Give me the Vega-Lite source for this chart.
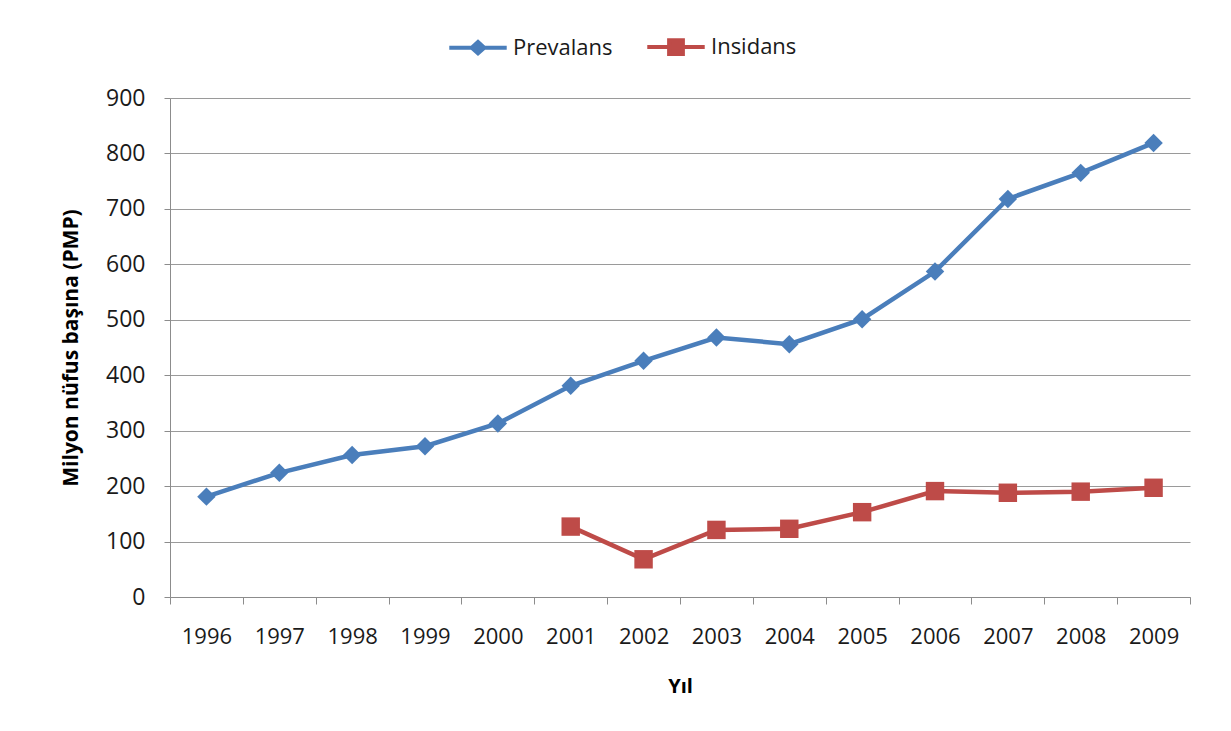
{
  "$schema": "https://vega.github.io/schema/vega-lite/v6.json",
  "autosize": {"type": "none"},
  "width": 1020,
  "height": 499,
  "padding": {"left": 170, "top": 98, "right": 41, "bottom": 134},
  "background": "white",
  "config": {
    "view": {"stroke": null},
    "font": "Open Sans"
  },
  "data": {
    "values": [
      {"year": "1996", "series": "Prevalans", "value": 181},
      {"year": "1997", "series": "Prevalans", "value": 224},
      {"year": "1998", "series": "Prevalans", "value": 256},
      {"year": "1999", "series": "Prevalans", "value": 272},
      {"year": "2000", "series": "Prevalans", "value": 313},
      {"year": "2001", "series": "Prevalans", "value": 381},
      {"year": "2002", "series": "Prevalans", "value": 426},
      {"year": "2003", "series": "Prevalans", "value": 468},
      {"year": "2004", "series": "Prevalans", "value": 456},
      {"year": "2005", "series": "Prevalans", "value": 501},
      {"year": "2006", "series": "Prevalans", "value": 587},
      {"year": "2007", "series": "Prevalans", "value": 718},
      {"year": "2008", "series": "Prevalans", "value": 765},
      {"year": "2009", "series": "Prevalans", "value": 819},
      {"year": "2001", "series": "Insidans", "value": 127},
      {"year": "2002", "series": "Insidans", "value": 68},
      {"year": "2003", "series": "Insidans", "value": 121},
      {"year": "2004", "series": "Insidans", "value": 123},
      {"year": "2005", "series": "Insidans", "value": 153},
      {"year": "2006", "series": "Insidans", "value": 191},
      {"year": "2007", "series": "Insidans", "value": 188},
      {"year": "2008", "series": "Insidans", "value": 190},
      {"year": "2009", "series": "Insidans", "value": 197}
    ]
  },
  "encoding": {
    "x": {
      "field": "year",
      "type": "ordinal",
      "scale": {"type": "band", "paddingInner": 0, "paddingOuter": 0},
      "axis": {
        "title": "Yıl",
        "titleFont": "Open Sans",
        "titleFontSize": 20,
        "titleFontWeight": "bold",
        "titleColor": "#000000",
        "titlePadding": 29,
        "labelAngle": 0,
        "labelFont": "Open Sans",
        "labelFontSize": 22,
        "labelColor": "#1a1a1a",
        "labelPadding": 22,
        "tickBand": "extent",
        "tickSize": 7,
        "tickColor": "#8c8c8c",
        "domainColor": "#8c8c8c",
        "grid": false
      }
    },
    "y": {
      "field": "value",
      "type": "quantitative",
      "scale": {"domain": [0, 900], "nice": false},
      "axis": {
        "title": "Milyon nüfus başına (PMP)",
        "titleFont": "Open Sans",
        "titleFontSize": 21,
        "titleFontWeight": "bold",
        "titleColor": "#000000",
        "titlePadding": 24,
        "values": [0, 100, 200, 300, 400, 500, 600, 700, 800, 900],
        "labelFont": "Open Sans",
        "labelFontSize": 23,
        "labelColor": "#1a1a1a",
        "labelPadding": 19,
        "tickSize": 6,
        "tickColor": "#8c8c8c",
        "domainColor": "#8c8c8c",
        "grid": true,
        "gridColor": "#9a9a9a",
        "gridWidth": 1.2
      }
    },
    "color": {
      "field": "series",
      "type": "nominal",
      "scale": {"domain": ["Prevalans", "Insidans"], "range": ["#4A7EBB", "#BE4B48"]},
      "legend": {
        "title": null,
        "orient": "none",
        "legendX": 277,
        "legendY": -82,
        "direction": "horizontal",
        "labelFont": "Open Sans",
        "labelFontSize": 22,
        "labelColor": "#1a1a1a",
        "symbolSize": 3300,
        "symbolType": "M-1,0H1M-0.22,0L0,-0.2L0.22,0L0,0.2Z",
        "symbolStrokeWidth": 4,
        "columnPadding": 26,
        "labelOffset": 4,
        "encode": {
          "symbols": {
            "update": {
              "shape": {"signal": "datum.value === 'Prevalans' ? 'M-1,0H1M-0.22,0L0,-0.2L0.22,0L0,0.2Z' : 'M-1,0H1M-0.24,-0.24H0.24V0.24H-0.24Z'"},
              "fill": {"signal": "datum.value === 'Prevalans' ? '#4A7EBB' : '#BE4B48'"},
              "stroke": {"signal": "datum.value === 'Prevalans' ? '#4A7EBB' : '#BE4B48'"},
              "strokeWidth": {"value": 4},
              "opacity": {"value": 1}
            }
          }
        }
      }
    }
  },
  "layer": [
    {
      "mark": {"type": "line", "strokeWidth": 4.5}
    },
    {
      "transform": [{"filter": "datum.series === 'Prevalans'"}],
      "mark": {"type": "point", "shape": "diamond", "filled": true, "opacity": 1, "size": 340}
    },
    {
      "transform": [{"filter": "datum.series === 'Insidans'"}],
      "mark": {"type": "point", "shape": "square", "filled": true, "opacity": 1, "size": 340}
    }
  ]
}
